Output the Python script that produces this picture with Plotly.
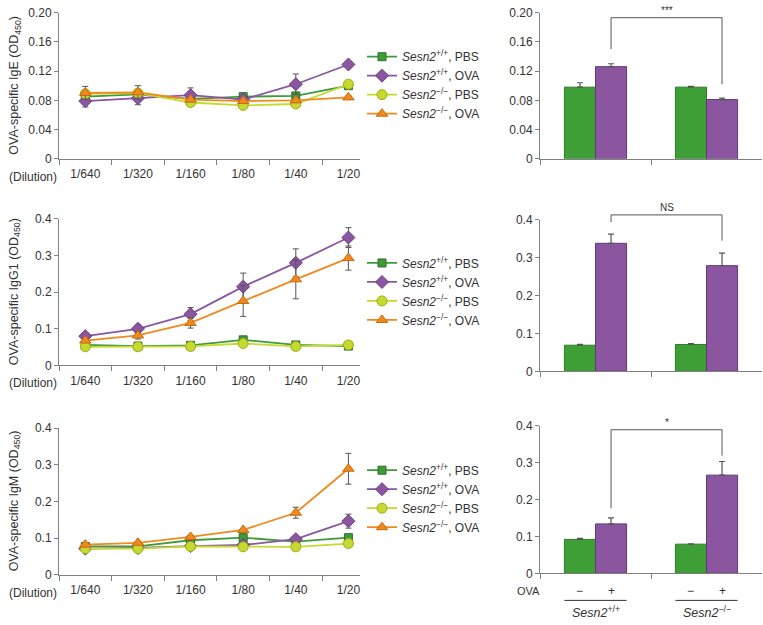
import plotly.graph_objects as go

W, H = 763, 625

dilutions = ["1/640", "1/320", "1/160", "1/80", "1/40", "1/20"]
series_names = [
    "<i>Sesn2</i><sup>+/+</sup>, PBS",
    "<i>Sesn2</i><sup>+/+</sup>, OVA",
    "<i>Sesn2</i><sup>\u2212/\u2212</sup>, PBS",
    "<i>Sesn2</i><sup>\u2212/\u2212</sup>, OVA",
]

# IgE (line)
ige_wt_pbs = [0.085, 0.088, 0.082, 0.085, 0.086, 0.100]
ige_wt_ova = [0.079, 0.083, 0.087, 0.081, 0.102, 0.129]
ige_ko_pbs = [0.089, 0.090, 0.077, 0.073, 0.075, 0.102]
ige_ko_ova = [0.090, 0.091, 0.081, 0.079, 0.080, 0.084]
ige_wt_pbs_err = [0.003, 0.003, 0.003, 0.003, 0.003, 0.003]
ige_wt_ova_err = [0.008, 0.009, 0.010, 0.002, 0.014, 0.003]
ige_ko_pbs_err = [0.003, 0.003, 0.004, 0.002, 0.003, 0.003]
ige_ko_ova_err = [0.009, 0.009, 0.003, 0.002, 0.003, 0.002]

# IgG1 (line)
igg_wt_pbs = [0.056, 0.053, 0.055, 0.070, 0.056, 0.053]
igg_wt_ova = [0.080, 0.100, 0.140, 0.215, 0.280, 0.349]
igg_ko_pbs = [0.051, 0.051, 0.052, 0.060, 0.052, 0.056]
igg_ko_ova = [0.068, 0.082, 0.116, 0.176, 0.235, 0.293]
igg_wt_pbs_err = [0.002, 0.002, 0.002, 0.003, 0.002, 0.002]
igg_wt_ova_err = [0.004, 0.012, 0.018, 0.037, 0.038, 0.027]
igg_ko_pbs_err = [0.002, 0.002, 0.002, 0.002, 0.002, 0.002]
igg_ko_ova_err = [0.004, 0.010, 0.014, 0.042, 0.053, 0.033]

# IgM (line)
igm_wt_pbs = [0.077, 0.077, 0.094, 0.101, 0.090, 0.101]
igm_wt_ova = [0.071, 0.073, 0.078, 0.081, 0.097, 0.146]
igm_ko_pbs = [0.071, 0.071, 0.077, 0.076, 0.076, 0.085]
igm_ko_ova = [0.082, 0.087, 0.103, 0.122, 0.169, 0.289]
igm_wt_pbs_err = [0.003, 0.003, 0.003, 0.003, 0.003, 0.003]
igm_wt_ova_err = [0.002, 0.002, 0.002, 0.003, 0.005, 0.019]
igm_ko_pbs_err = [0.002, 0.002, 0.002, 0.002, 0.002, 0.002]
igm_ko_ova_err = [0.003, 0.003, 0.004, 0.004, 0.015, 0.042]

# Bars (1/20 dilution summary)
genotypes = ["WT", "KO"]
bar_ige_pbs = [0.098, 0.098]
bar_ige_ova = [0.126, 0.081]
bar_ige_pbs_err = [0.006, 0.001]
bar_ige_ova_err = [0.004, 0.002]
bar_igg_pbs = [0.069, 0.071]
bar_igg_ova = [0.338, 0.279]
bar_igg_pbs_err = [0.002, 0.002]
bar_igg_ova_err = [0.024, 0.033]
bar_igm_pbs = [0.092, 0.079]
bar_igm_ova = [0.134, 0.266]
bar_igm_pbs_err = [0.003, 0.001]
bar_igm_ova_err = [0.016, 0.037]

sig_labels = ["***", "NS", "*"]
ige_ticks = [0, 0.04, 0.08, 0.12, 0.16, 0.20]
ige_ticktext = ["0", "0.04", "0.08", "0.12", "0.16", "0.20"]
ig_ticks = [0, 0.1, 0.2, 0.3, 0.4]
ig_ticktext = ["0", "0.1", "0.2", "0.3", "0.4"]

FONT = "Arial"
TXT = "#333333"
AX = "#808080"
ERR = "#555555"

line_styles = [
    dict(color="#3f9b3a", symbol="square", size=8, edge="#2c6e29"),
    dict(color="#8a56a0", symbol="diamond", size=10, edge="#6a3e7d"),
    dict(color="#c5d92e", symbol="circle", size=10, edge="#9aae1c"),
    dict(color="#f08a1e", symbol="triangle-up", size=10, edge="#c76a0c"),
]
BAR_GREEN = "#3e9f37"
BAR_PURPLE = "#8b55a0"


def px_x(p):
    return p / W


def px_y(p):
    return 1 - p / H


fig = go.Figure()

left_x = [px_x(59), px_x(360)]
right_x = [px_x(540), px_x(762)]
rows = [
    dict(ly=[px_y(155.3), px_y(5.7)], ry=[px_y(155.3), px_y(5.7)], rng=[0, 0.20],
         tv=ige_ticks, tt=ige_ticktext, title="OVA-specific IgE (OD<sub>450</sub>)",
         lines=[(ige_wt_pbs, ige_wt_pbs_err), (ige_wt_ova, ige_wt_ova_err),
                (ige_ko_pbs, ige_ko_pbs_err), (ige_ko_ova, ige_ko_ova_err)],
         bars=[(bar_ige_pbs, bar_ige_pbs_err), (bar_ige_ova, bar_ige_ova_err)],
         legend_top=36, bracket=(0.193, 0.150, 0.102)),
    dict(ly=[px_y(366.7), px_y(216.7)], ry=[px_y(372.7), px_y(217.7)], rng=[0, 0.4],
         tv=ig_ticks, tt=ig_ticktext, title="OVA-specific IgG1 (OD<sub>450</sub>)",
         lines=[(igg_wt_pbs, igg_wt_pbs_err), (igg_wt_ova, igg_wt_ova_err),
                (igg_ko_pbs, igg_ko_pbs_err), (igg_ko_ova, igg_ko_ova_err)],
         bars=[(bar_igg_pbs, bar_igg_pbs_err), (bar_igg_ova, bar_igg_ova_err)],
         legend_top=247, bracket=(0.413, 0.394, 0.345)),
    dict(ly=[px_y(580.7), px_y(430.7)], ry=[px_y(579.3), px_y(428.3)], rng=[0, 0.4],
         tv=ig_ticks, tt=ig_ticktext, title="OVA-specific IgM (OD<sub>450</sub>)",
         lines=[(igm_wt_pbs, igm_wt_pbs_err), (igm_wt_ova, igm_wt_ova_err),
                (igm_ko_pbs, igm_ko_pbs_err), (igm_ko_ova, igm_ko_ova_err)],
         bars=[(bar_igm_pbs, bar_igm_pbs_err), (bar_igm_ova, bar_igm_ova_err)],
         legend_top=459, bracket=(0.389, 0.176, 0.319)),
]

BARGAP = 0.44
half_w = (1 - BARGAP) / 2
off = half_w / 2
R_RANGE = [-0.5, 1.5]
L_RANGE = [-0.5, 5.22]

layout = dict(
    width=W, height=H, margin=dict(l=0, r=0, t=0, b=0),
    paper_bgcolor="white", plot_bgcolor="white",
    font=dict(family=FONT, size=12, color=TXT),
    barmode="group", bargap=BARGAP, bargroupgap=0,
    annotations=[], shapes=[],
)

axis_common = dict(showline=True, linecolor=AX, linewidth=1, showgrid=False,
                   zeroline=False, ticks="outside", tickcolor=AX, ticklen=4,
                   tickfont=dict(family=FONT, size=12, color=TXT))

for i, r in enumerate(rows):
    lx = 2 * i + 1
    rx = 2 * i + 2
    lk = "" if lx == 1 else str(lx)
    rk = str(rx)
    legname = "legend" if i == 0 else f"legend{i + 1}"

    layout[f"xaxis{lk}"] = dict(axis_common, domain=left_x, anchor=f"y{lk}",
                                type="category", range=L_RANGE, tickson="boundaries",
                                ticklen=5, ticklabelstandoff=4,
                                categoryorder="array", categoryarray=dilutions)
    layout[f"yaxis{lk}"] = dict(axis_common, domain=r["ly"], anchor=f"x{lk}",
                                range=r["rng"], tickvals=r["tv"], ticktext=r["tt"])
    layout[f"xaxis{rk}"] = dict(axis_common, domain=right_x, anchor=f"y{rk}",
                                type="category", range=R_RANGE, tickson="boundaries",
                                ticklen=5, showticklabels=False)
    layout[f"yaxis{rk}"] = dict(axis_common, domain=r["ry"], anchor=f"x{rk}",
                                range=r["rng"], tickvals=r["tv"], ticktext=r["tt"])

    for (vals, errs), name, st in zip(r["lines"], series_names, line_styles):
        fig.add_trace(go.Scatter(
            x=dilutions, y=vals, name=name, mode="lines+markers",
            xaxis=f"x{lk}", yaxis=f"y{lk}", legend=legname,
            line=dict(color=st["color"], width=1.8),
            marker=dict(symbol=st["symbol"], size=st["size"], color=st["color"],
                        line=dict(color=st["edge"], width=1)),
            error_y=dict(type="data", array=errs, color=ERR, thickness=1, width=3),
            cliponaxis=False,
        ))

    for (vals, errs), col, edge in zip(r["bars"], [BAR_GREEN, BAR_PURPLE], ["#2f7a2a", "#5f3a70"]):
        fig.add_trace(go.Bar(
            x=genotypes, y=vals, xaxis=f"x{rk}", yaxis=f"y{rk}", showlegend=False,
            marker=dict(color=col, line=dict(color=edge, width=1)),
            error_y=dict(type="data", array=errs, arrayminus=[0] * len(errs),
                         symmetric=False, color=ERR, thickness=1.2, width=3),
        ))

    layout[legname] = dict(x=px_x(362), y=px_y(r["legend_top"]), xanchor="left", yanchor="top",
                           bgcolor="rgba(0,0,0,0)", font=dict(family=FONT, size=12, color=TXT),
                           tracegroupgap=0, itemwidth=30)

    # y-axis title
    layout["annotations"].append(dict(
        text=r["title"], xref="paper", yref="paper", x=px_x(15),
        y=(r["ly"][0] + r["ly"][1]) / 2, textangle=-90, showarrow=False,
        font=dict(family=FONT, size=12.5, color=TXT), xanchor="center", yanchor="middle"))
    # (Dilution)
    layout["annotations"].append(dict(
        text="(Dilution)", xref="paper", yref="paper", x=px_x(33),
        y=r["ly"][0], yshift=-18, showarrow=False, yanchor="middle", xanchor="center",
        font=dict(family=FONT, size=12, color=TXT)))

    # significance bracket
    top, lbot, rbot = r["bracket"]
    span = R_RANGE[1] - R_RANGE[0]
    xa = (0 + off - R_RANGE[0]) / span
    xb = (1 + off - R_RANGE[0]) / span
    yr = r["rng"][1] - r["rng"][0]
    path = (f"M {xa},{lbot / yr} L {xa},{top / yr} L {xb},{top / yr} L {xb},{rbot / yr}")
    layout["shapes"].append(dict(type="path", path=path, xref=f"x{rk} domain",
                                 yref=f"y{rk} domain", line=dict(color="#555555", width=1)))
    layout["annotations"].append(dict(
        text=sig_labels[i], xref=f"x{rk} domain", yref=f"y{rk} domain",
        x=(xa + xb) / 2, y=top / yr, yanchor="bottom", showarrow=False, yshift=0,
        font=dict(family=FONT, size=10, color=TXT)))

# bottom-right treatment labels
signs = ["\u2212", "+"]
for gi, g in enumerate(genotypes):
    for si, s in enumerate(signs):
        layout["annotations"].append(dict(
            text=s, xref="x6", yref="paper", x=gi + (-off if si == 0 else off),
            y=px_y(597), showarrow=False, yanchor="middle",
            font=dict(family=FONT, size=12, color=TXT)))
    layout["shapes"].append(dict(type="line", xref="x6", yref="paper",
                                 x0=gi - half_w, x1=gi + half_w, y0=px_y(607), y1=px_y(607),
                                 line=dict(color="#333333", width=1)))
geno_labels = ["<i>Sesn2</i><sup>+/+</sup>", "<i>Sesn2</i><sup>\u2212/\u2212</sup>"]
for gi, lab in enumerate(geno_labels):
    layout["annotations"].append(dict(
        text=lab, xref="x6", yref="paper", x=gi, y=px_y(619), showarrow=False,
        yanchor="middle", font=dict(family=FONT, size=12.5, color=TXT)))
layout["annotations"].append(dict(
    text="OVA", xref="paper", yref="paper", x=px_x(528), y=px_y(597),
    showarrow=False, yanchor="middle", xanchor="center",
    font=dict(family=FONT, size=11, color=TXT)))

fig.update_layout(**layout)
fig.write_html("out.html", config={"displayModeBar": False},
               post_script="document.body.style.margin='0';")
